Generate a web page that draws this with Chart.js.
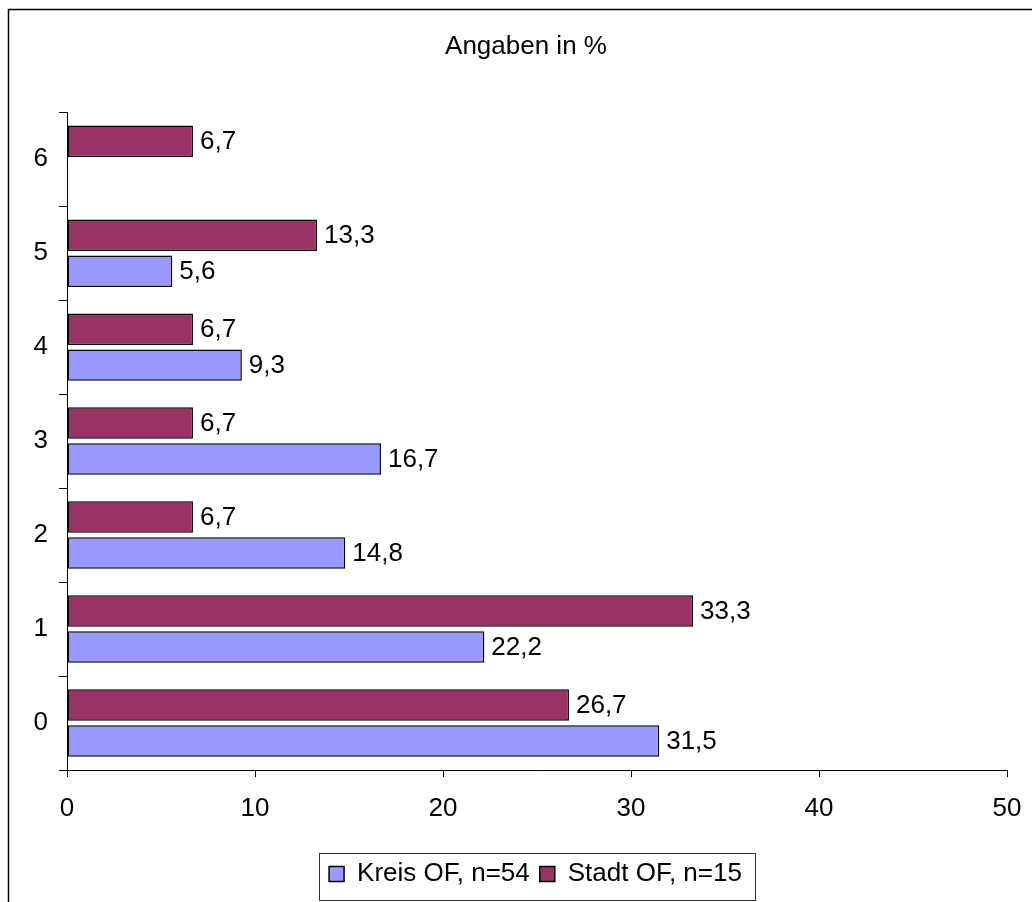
<!DOCTYPE html>
<html>
<head>
<meta charset="utf-8">
<script src="https://cdn.jsdelivr.net/npm/chart.js@4"></script>
<style>
  html, body { margin: 0; padding: 0; background: #fff; }
  #wrap { width: 1032px; height: 902px; position: relative; }
</style>
</head>
<body>
<div id="wrap"><canvas id="c" width="1032" height="902"></canvas></div>
<script>
const categories = ['0', '1', '2', '3', '4', '5', '6'];
const kreisValues = [31.5, 22.2, 14.8, 16.7, 9.3, 5.6, null];
const stadtValues = [26.7, 33.3, 6.7, 6.7, 6.7, 13.3, 6.7];
const seriesNames = ['Kreis OF, n=54', 'Stadt OF, n=15'];
const titleText = 'Angaben in %';
const xTickMin = 0, xTickMax = 50, xTickStep = 10;

const FONT = "'Liberation Sans', Arial, sans-serif";

const framePlugin = {
  id: 'frame',
  beforeDraw(chart) {
    const ctx = chart.ctx;
    ctx.save();
    ctx.strokeStyle = '#000';
    ctx.lineWidth = 1.5;
    ctx.strokeRect(8.5, 9.5, 1200, 1200);
    ctx.restore();
  },
  afterLayout(chart) {
    const lg = chart.legend;
    if (lg) {
      const d = 535.5 - (lg.left + lg.right) / 2;
      lg.left += d; lg.right += d;
    }
    const tb = chart.titleBlock;
    if (tb) {
      const d = 526 - (tb.left + tb.right) / 2;
      tb.left += d; tb.right += d;
    }
  },
  afterDraw(chart) {
    const lg = chart.legend;
    if (!lg || !lg.legendHitBoxes || !lg.legendHitBoxes.length) return;
    const hb = lg.legendHitBoxes;
    const first = hb[0], last = hb[hb.length - 1];
    const l = Math.round(first.left - 10) + 0.5;
    const r = Math.round(last.left + last.width + 13) + 0.5;
    const t = Math.round(lg.top + 2) + 0.5;
    const b = Math.round(lg.top + 49) + 0.5;
    const ctx = chart.ctx;
    ctx.save();
    ctx.strokeStyle = '#333';
    ctx.lineWidth = 1;
    ctx.strokeRect(l, t, r - l, b - t);
    ctx.restore();
  }
};

const valueLabelPlugin = {
  id: 'valueLabels',
  afterDatasetsDraw(chart) {
    const ctx = chart.ctx;
    ctx.save();
    ctx.font = '26px ' + FONT;
    ctx.fillStyle = '#000';
    ctx.textAlign = 'left';
    ctx.textBaseline = 'middle';
    chart.data.datasets.forEach((ds, di) => {
      const meta = chart.getDatasetMeta(di);
      meta.data.forEach((bar, i) => {
        const v = ds.data[i];
        if (v === null || v === undefined) return;
        const txt = v.toFixed(1).replace('.', ',');
        ctx.fillText(txt, bar.x + 7, bar.y + 1);
      });
    });
    ctx.restore();
  }
};

new Chart(document.getElementById('c'), {
  type: 'bar',
  data: {
    labels: categories,
    datasets: [
      {
        label: seriesNames[1],
        data: stadtValues,
        backgroundColor: '#993366',
        borderColor: '#000',
        borderWidth: 1.5,
        borderSkipped: false,
        categoryPercentage: 0.766,
        barPercentage: 0.875
      },
      {
        label: seriesNames[0],
        data: kreisValues,
        backgroundColor: '#9999FF',
        borderColor: '#000',
        borderWidth: 1.5,
        borderSkipped: false,
        categoryPercentage: 0.766,
        barPercentage: 0.875
      }
    ]
  },
  options: {
    indexAxis: 'y',
    responsive: false,
    animation: false,
    devicePixelRatio: 1,
    layout: { padding: { left: 0, right: 25, top: 0, bottom: 5 } },
    plugins: {
      title: {
        display: true,
        text: titleText,
        color: '#000',
        font: { family: FONT, size: 26, weight: 'normal' },
        padding: { top: 31, bottom: 50 }
      },
      legend: {
        display: true,
        position: 'bottom',
        reverse: true,
        labels: {
          color: '#000',
          font: { family: FONT, size: 26 },
          boxWidth: 15,
          boxHeight: 15,
          padding: 10
        }
      },
      tooltip: { enabled: false }
    },
    scales: {
      x: {
        type: 'linear',
        min: xTickMin,
        max: xTickMax,
        ticks: { stepSize: xTickStep, color: '#000', font: { family: FONT, size: 26 }, padding: 16, maxRotation: 0 },
        grid: { drawOnChartArea: false, drawTicks: true, tickLength: 7, color: '#000' },
        border: { display: true, color: '#000', width: 1 },
        afterFit(scale) { scale.height = 81; scale.paddingLeft = 0; scale.paddingRight = 0; }
      },
      y: {
        type: 'category',
        reverse: true,
        offset: true,
        ticks: { color: '#000', font: { family: FONT, size: 26 }, padding: 11 },
        grid: { offset: true, drawOnChartArea: false, drawTicks: true, tickLength: 8, color: '#000' },
        border: { display: true, color: '#000', width: 1 },
        afterFit(scale) { scale.width = 67; scale.paddingTop = 0; scale.paddingBottom = 0; }
      }
    }
  },
  plugins: [framePlugin, valueLabelPlugin]
});
</script>
</body>
</html>
